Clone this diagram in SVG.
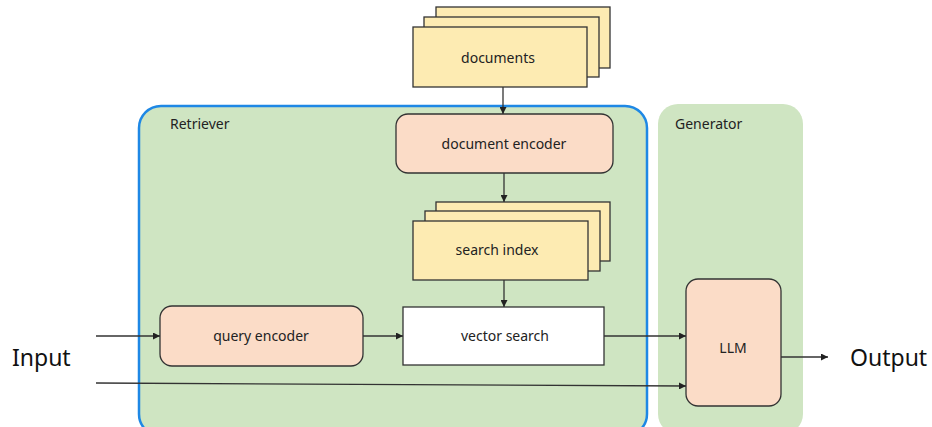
<svg xmlns="http://www.w3.org/2000/svg" width="932" height="427" viewBox="0 0 932 427">
<defs>
<style>
.t{font-family:"Noto Sans","Open Sans",sans-serif;font-size:14px;fill:#222;text-anchor:middle;dominant-baseline:central}
.lbl{font-family:"Noto Sans","Open Sans",sans-serif;font-size:14px;fill:#222}
.big{font-family:"Noto Sans","Open Sans",sans-serif;font-size:23px;fill:#111;dominant-baseline:central}
.doc{fill:#FDEBB2;stroke:#333;stroke-width:1.3}
.enc{fill:#FBDCC7;stroke:#333;stroke-width:1.3}
.ln{stroke:#333;stroke-width:1.3;fill:none}
</style>
<marker id="ah" viewBox="0 0 10 10" refX="10" refY="5" markerWidth="7" markerHeight="7" markerUnits="userSpaceOnUse" orient="auto">
<path d="M0,0 L10,5 L0,10 z" fill="#222"/>
</marker>
</defs>
<rect width="932" height="427" fill="#fff"/>
<g id="retriever">
<rect x="139" y="106" width="508" height="330" rx="22" fill="#CFE5C2" stroke="#1E88E5" stroke-width="2.5"/>
<text class="lbl" x="170" y="129">Retriever</text>
</g>
<g id="generator">
<rect x="658" y="104" width="145" height="330" rx="20" fill="#CFE5C2"/>
<text class="lbl" x="675" y="129">Generator</text>
</g>
<g id="documents">
<rect class="doc" x="436" y="7" width="174" height="61"/>
<rect class="doc" x="424" y="17" width="175" height="60"/>
<rect class="doc" x="413" y="27" width="174" height="60"/>
<text class="t" x="498" y="57">documents</text>
</g>
<g id="document-encoder">
<rect class="enc" x="396" y="114" width="217" height="59" rx="12"/>
<text class="t" x="504" y="143">document encoder</text>
</g>
<g id="search-index">
<rect class="doc" x="436" y="202" width="174" height="59"/>
<rect class="doc" x="425" y="211" width="175" height="60"/>
<rect class="doc" x="413" y="221" width="175" height="59"/>
<text class="t" x="497" y="249">search index</text>
</g>
<g id="query-encoder">
<rect class="enc" x="160" y="306" width="203" height="60" rx="12"/>
<text class="t" x="261" y="335">query encoder</text>
</g>
<g id="vector-search">
<rect x="403" y="307" width="201" height="58" fill="#fff" stroke="#333" stroke-width="1.3"/>
<text class="t" x="505" y="335">vector search</text>
</g>
<g id="llm">
<rect class="enc" x="686" y="279" width="95" height="127" rx="12"/>
<text class="t" x="733" y="347">LLM</text>
</g>
<g id="io">
<text class="big" x="12" y="357">Input</text>
<text class="big" x="850" y="357">Output</text>
</g>
<g id="connectors">
<line class="ln" x1="503" y1="87" x2="503" y2="114" marker-end="url(#ah)"/>
<line class="ln" x1="504" y1="173" x2="504" y2="202" marker-end="url(#ah)"/>
<line class="ln" x1="504" y1="280" x2="504" y2="307" marker-end="url(#ah)"/>
<line class="ln" x1="96" y1="336" x2="160" y2="336" marker-end="url(#ah)"/>
<line class="ln" x1="363" y1="336" x2="403" y2="336" marker-end="url(#ah)"/>
<line class="ln" x1="604" y1="336" x2="686" y2="336" marker-end="url(#ah)"/>
<line class="ln" x1="96" y1="383" x2="686" y2="386" marker-end="url(#ah)"/>
<line class="ln" x1="781" y1="357" x2="828" y2="357" marker-end="url(#ah)"/>
</g>
</svg>
